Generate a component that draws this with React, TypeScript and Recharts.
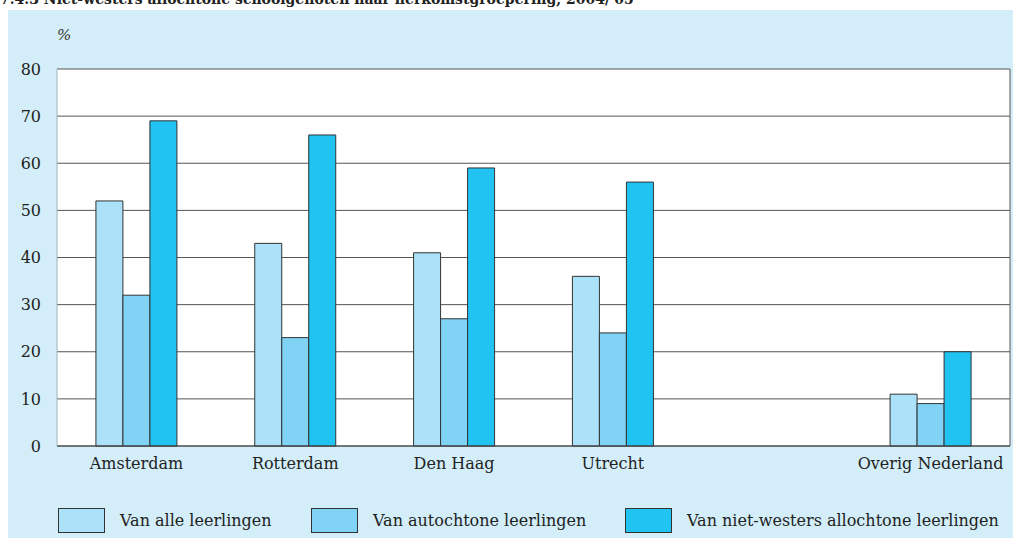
import { Bar, BarChart, CartesianGrid, XAxis, YAxis } from "recharts";

const categories = ["Amsterdam", "Rotterdam", "Den Haag", "Utrecht", "", "Overig Nederland"];
const alleLeerlingen = [52, 43, 41, 36, null, 11];
const autochtoneLeerlingen = [32, 23, 27, 24, null, 9];
const nietWestersLeerlingen = [69, 66, 59, 56, null, 20];
const yTicks = [0, 10, 20, 30, 40, 50, 60, 70, 80];

const SERIES = [
  { key: "alle", label: "Van alle leerlingen", color: "#abe1f9" },
  { key: "autochtoon", label: "Van autochtone leerlingen", color: "#80d3f5" },
  { key: "nietWesters", label: "Van niet-westers allochtone leerlingen", color: "#20c3f2" },
];

const FONT = "'DejaVu Serif', 'Liberation Serif', serif";

const data = categories.map((name, i) => ({
  name,
  alle: alleLeerlingen[i],
  autochtoon: autochtoneLeerlingen[i],
  nietWesters: nietWestersLeerlingen[i],
}));

const App = () => {
  return (
    <div style={{ position: "relative", width: 1013, height: 538, background: "#fff", overflow: "hidden" }}>
      <style>{`body{margin:0}`}</style>
      {/* titel, bovenkant valt buiten beeld */}
      <div
        style={{
          position: "absolute",
          left: 0,
          top: -9,
          fontFamily: FONT,
          fontWeight: "bold",
          fontSize: 14,
          whiteSpace: "nowrap",
          color: "#222",
        }}
      >
        7.4.3 Niet-westers allochtone schoolgenoten naar herkomstgroepering, 2004/'05 ¹
      </div>
      <div style={{ position: "absolute", left: 8, top: 10, width: 1005, height: 528, background: "#d3eef9" }} />
      <div
        style={{
          position: "absolute",
          left: 57,
          top: 26,
          fontFamily: FONT,
          fontStyle: "italic",
          fontSize: 15,
          color: "#333",
        }}
      >
        %
      </div>
      <div style={{ position: "absolute", left: 0, top: 0 }}>
        <BarChart
          width={1013}
          height={490}
          data={data}
          margin={{ top: 69, right: 3, left: 0, bottom: 14 }}
          barCategoryGap="24.5%"
          barGap={0}
        >
          <CartesianGrid
            fill="#fff"
            stroke="#555"
            strokeWidth={1}
            vertical
            verticalCoordinatesGenerator={() => [1010]}
          />
          <XAxis
            dataKey="name"
            tickLine={false}
            axisLine={{ stroke: "#444" }}
            tick={{ fontFamily: FONT, fontSize: 16, fill: "#222" }}
            tickMargin={6}
            height={30}
            interval={0}
          />
          <YAxis
            domain={[0, 80]}
            ticks={yTicks}
            width={57}
            tickLine={false}
            axisLine={{ stroke: "#9fb4bd" }}
            tick={{ fontFamily: FONT, fontSize: 16, fill: "#222" }}
            tickMargin={10}
          />
          {SERIES.map((s) => (
            <Bar
              key={s.key}
              dataKey={s.key}
              name={s.label}
              fill={s.color}
              stroke="#333"
              strokeWidth={1}
              isAnimationActive={false}
            />
          ))}
        </BarChart>
      </div>
      {/* legenda */}
      {SERIES.map((s, i) => (
        <div
          key={s.key}
          style={{
            position: "absolute",
            left: [58, 311, 625][i],
            top: 508,
            display: "flex",
            alignItems: "center",
            fontFamily: FONT,
            fontSize: 16,
            color: "#222",
            whiteSpace: "nowrap",
          }}
        >
          <span
            style={{
              display: "inline-block",
              width: 45,
              height: 23,
              background: s.color,
              border: "1px solid #333",
              marginRight: 15,
            }}
          />
          {s.label}
        </div>
      ))}
    </div>
  );
};

export default App;
